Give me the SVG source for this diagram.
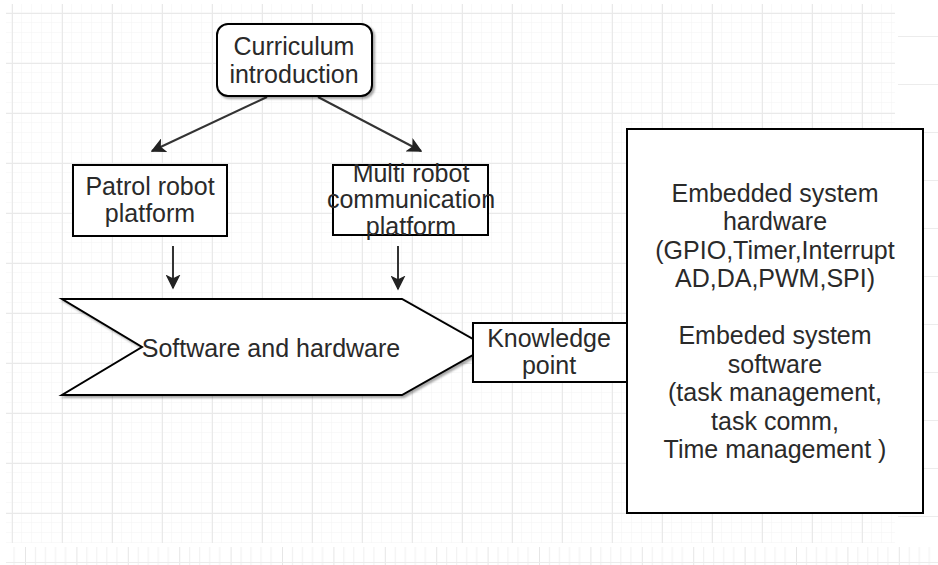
<svg xmlns="http://www.w3.org/2000/svg" width="938" height="565" viewBox="0 0 938 565">
<style>
.box{fill:#fff;stroke:#000;stroke-width:2}
.t{font-family:"Liberation Sans",Arial,sans-serif;font-size:25px;fill:#2a2a2a;text-anchor:middle}
.edge{stroke:#333;stroke-width:2;fill:none;marker-end:url(#arr)}
</style>
<defs>
<marker id="arr" viewBox="0 0 10 10" refX="9" refY="5" markerWidth="7.5" markerHeight="7.5" markerUnits="strokeWidth" orient="auto">
<path d="M0,0 L10,5 L0,10 L2.5,5 z" fill="#222"/>
</marker>
<pattern id="minor" x="2" y="3" width="10" height="10" patternUnits="userSpaceOnUse">
<path d="M10,0 V10 M0,10 H10" stroke="#f3f3f3" stroke-width="1" fill="none"/>
</pattern>
<pattern id="major" x="12" y="13" width="50" height="50" patternUnits="userSpaceOnUse">
<path d="M0.5,0 V50 M0,0.5 H50" stroke="#e9e9e9" stroke-width="1" fill="none"/>
</pattern>
<pattern id="strip" x="25" y="547" width="51.4" height="18" patternUnits="userSpaceOnUse">
<path d="M0.5,0 V18 M10.5,0 V18 M20.5,0 V18 M30.5,0 V18 M40.5,0 V18" stroke="#f0f0f0" fill="none"/>
<path d="M0.5,0 V18" stroke="#e6e6e6" fill="none"/>
</pattern>
<filter id="sh" x="-5%" y="-5%" width="115%" height="120%">
<feDropShadow dx="2" dy="2" stdDeviation="1" flood-color="#000" flood-opacity="0.35"/>
</filter>
</defs>
<rect width="938" height="565" fill="#fff"/>
<g id="grid">
<rect x="6" y="4" width="889" height="539" fill="url(#minor)"/>
<rect x="6" y="4" width="889" height="539" fill="url(#major)"/>
<rect x="6" y="547" width="932" height="18" fill="url(#strip)"/>
<path d="M6,562.5 H938" stroke="#ececec"/>
<path d="M898,36.5 H938 M898,84.5 H938 M898,132.5 H938 M898,180.5 H938 M898,228.5 H938 M898,276.5 H938 M898,324.5 H938 M898,372.5 H938 M898,420.5 H938 M898,468.5 H938 M898,516.5 H938" stroke="#ececec"/>
</g>
<g id="connectors">
<line class="edge" x1="267" y1="97" x2="152" y2="151"/>
<line class="edge" x1="318" y1="97" x2="421" y2="151"/>
<line class="edge" x1="173" y1="246" x2="173" y2="288"/>
<line class="edge" x1="398" y1="246" x2="398" y2="289"/>
</g>
<g id="curriculum">
<rect class="box" x="217" y="24" width="155" height="72" rx="11" filter="url(#sh)"/>
<text class="t" x="294" y="55">Curriculum</text>
<text class="t" x="294" y="83">introduction</text>
</g>
<g id="patrol">
<rect class="box" x="73" y="165" width="154" height="71"/>
<text class="t" x="150" y="195">Patrol robot</text>
<text class="t" x="150" y="222">platform</text>
</g>
<g id="multi">
<rect class="box" x="333" y="165" width="155" height="70"/>
<text class="t" x="411" y="182">Multi robot</text>
<text class="t" x="411" y="208">communication</text>
<text class="t" x="411" y="235">platform</text>
</g>
<g id="swhw">
<polygon class="box" points="62,299 402,299 487,347 402,395 62,395 142,347" filter="url(#sh)"/>
<text class="t" x="271" y="357">Software and hardware</text>
</g>
<g id="knowledge">
<rect class="box" x="473" y="323" width="154" height="59"/>
<text class="t" x="549" y="347">Knowledge</text>
<text class="t" x="549" y="374">point</text>
</g>
<g id="embedded">
<rect class="box" x="627" y="129" width="296" height="384"/>
<text class="t" x="775" y="202">Embedded system</text>
<text class="t" x="775" y="230">hardware</text>
<text class="t" x="775" y="258.5">(GPIO,Timer,Interrupt</text>
<text class="t" x="775" y="287">AD,DA,PWM,SPI)</text>
<text class="t" x="775" y="344">Embeded system</text>
<text class="t" x="775" y="373">software</text>
<text class="t" x="775" y="401">(task management,</text>
<text class="t" x="775" y="430">task comm,</text>
<text class="t" x="775" y="458">Time management )</text>
</g>
</svg>
